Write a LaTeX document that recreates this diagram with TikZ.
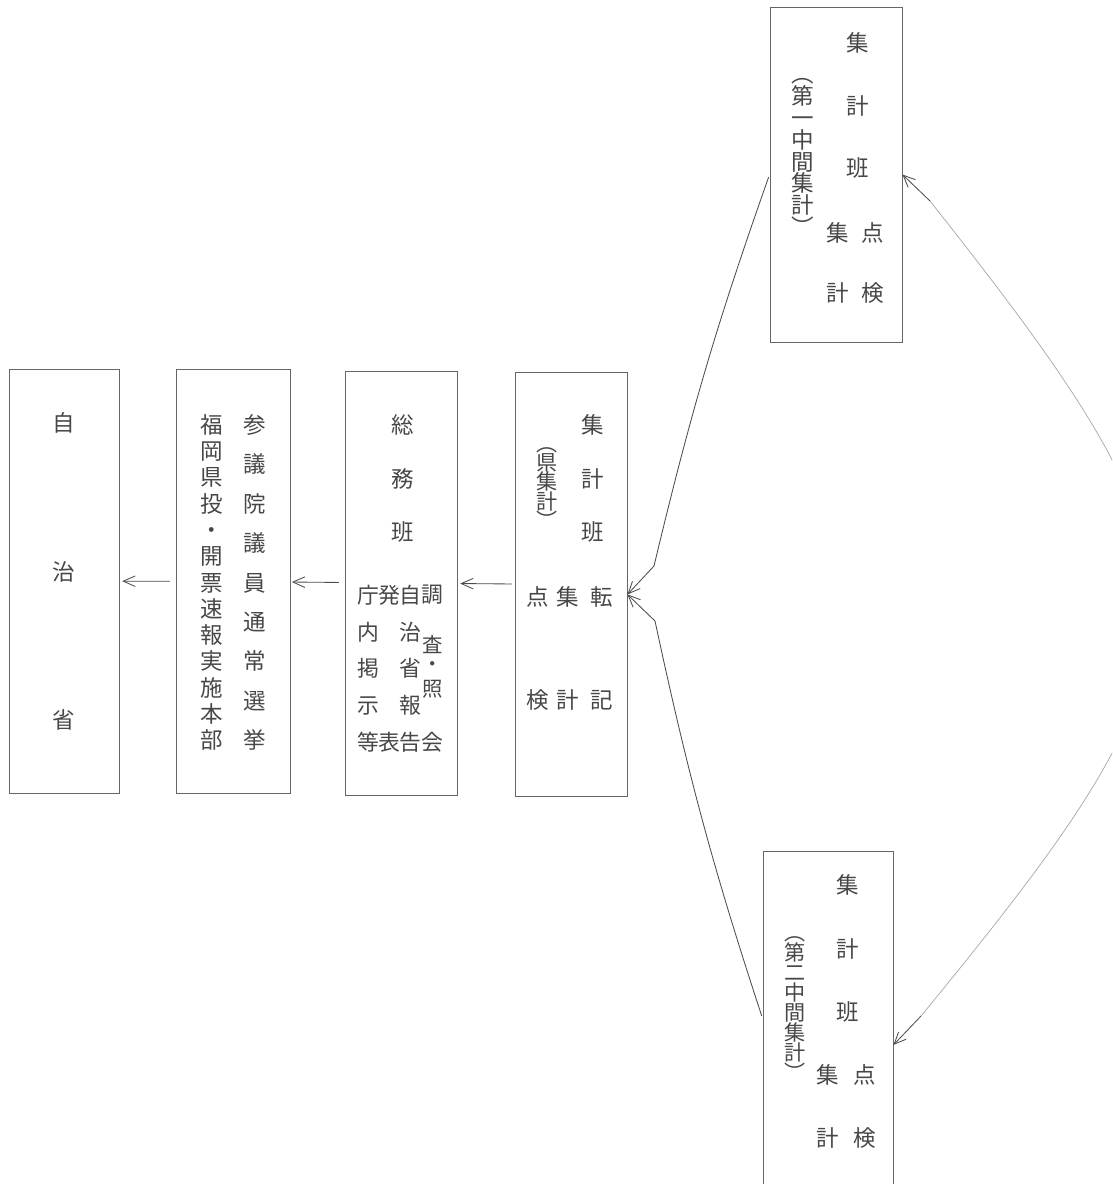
\documentclass[tikz,border=0pt]{standalone}
\usepackage{fontspec}
\newfontfamily\jpfont{Noto Sans CJK JP}
\usetikzlibrary{arrows.meta}

\tikzset{
  box/.style 2 args={draw=black!60, line width=0.6pt, minimum width=#1, minimum height=#2, inner sep=0pt},
  tate/.style 2 args={font={\jpfont\fontsize{#1}{#2}\selectfont\lineskiplimit=-20pt}, text=black!72, align=center, inner sep=0pt},
  arr/.style={draw=black!70, line width=0.6pt, -{Straight Barb[length=8.5pt,width=7.5pt]}},
  faint/.style={draw=black!35, line width=0.5pt},
}

\begin{document}
\begin{tikzpicture}[x=0.025cm, y=-0.025cm]
\useasboundingbox (0,0) rectangle (1112,1184);
\clip (0,0) rectangle (1112,1184);

% boxes, left to right, then the two intermediate ones
\node[box={2.75cm}{10.6cm}] (jichi) at (64,581) {};
\node[box={2.85cm}{10.6cm}] (honbu) at (233,581.5) {};
\node[box={2.8cm}{10.6cm}] (somu) at (401,583) {};
\node[box={2.8cm}{10.6cm}] (ken) at (571,584.5) {};
\node[box={3.3cm}{8.375cm}] (chukan1) at (836,174.5) {};
\node[box={3.25cm}{8.375cm}] (chukan2) at (828,1018.5) {};

% vertical texts
\node[tate={16pt}{105.6pt}] (jichi-t) at (64,571.5) {自\\治\\省};

\node[tate={16pt}{28pt}] (honbu-r) at (255,582.5) {参\\議\\院\\議\\員\\通\\常\\選\\挙};
\node[tate={16pt}{18.7pt}] (honbu-l) at (212,582.5) {福\\岡\\県\\投\\・\\開\\票\\速\\報\\実\\施\\本\\部};

\node[tate={16pt}{38.1pt}] (somu-t) at (403,478.5) {総\\務\\班};
\node[tate={15.5pt}{26.1pt}] (somu-a) at (368,668.5) {庁\\内\\掲\\示\\等};
\node[tate={15.5pt}{104.6pt}] (somu-b) at (389,668.5) {発\\表};
\node[tate={15.5pt}{26.1pt}] (somu-c) at (410,668.5) {自\\治\\省\\報\\告};
\foreach \c/\y [count=\i] in {調/595, 会/742}
  \node[tate={15.5pt}{15pt}] (somu-d\i) at (432,\y) {\c};
\foreach \c/\y [count=\i] in {査/645, ・/667, 照/689}
  \node[tate={14.5pt}{14.5pt}] (somu-e\i) at (433,\y) {\c};

\node[tate={16pt}{38.1pt}] (ken-t) at (593,478.5) {集\\計\\班};
\node[tate={15pt}{13.8pt}] (ken-n) at (547,488) {︵\\県\\集\\計\\︶};
\node[tate={16pt}{73.3pt}] (ken-a) at (602,648.5) {転\\記};
\node[tate={16pt}{73.3pt}] (ken-b) at (568,648.5) {集\\計};
\node[tate={16pt}{73.3pt}] (ken-c) at (538,648.5) {点\\検};

\node[tate={16pt}{44.5pt}] (chukan1-t) at (858,105.5) {集\\計\\班};
\node[tate={16pt}{42.7pt}] (chukan1-a) at (873,263) {点\\検};
\node[tate={16pt}{42.7pt}] (chukan1-b) at (838,263) {集\\計};
\node[tate={16pt}{15.6pt}] (chukan1-n) at (803,157) {︵\\第\\一\\中\\間\\集\\計\\︶};

\node[tate={16pt}{45.2pt}] (chukan2-t) at (848,948.5) {集\\計\\班};
\node[tate={16pt}{44.8pt}] (chukan2-a) at (865,1106.5) {点\\検};
\node[tate={16pt}{44.8pt}] (chukan2-b) at (828,1106.5) {集\\計};
\node[tate={15pt}{14.2pt}] (chukan2-n) at (795,1008.5) {︵\\第\\二\\中\\間\\集\\計\\︶};

% arrows between the boxes
\draw[arr, shorten <=4pt, shorten >=2pt] (honbu) -- (jichi);
\draw[arr, shorten <=4pt, shorten >=1pt] (somu) -- (honbu);
\draw[arr, shorten <=2pt, shorten >=2pt] (ken) -- (somu);

\coordinate (k1) at (654,566);
\coordinate (k2) at (655,621);
\draw[arr, shorten <=2pt] (chukan1.west) to[bend right=3] (k1) -- (ken.-10);
\draw[arr, shorten <=2pt] (chukan2.west) to[bend left=3] (k2) -- (ken.-10);

% the wide arc on the right, leaving the page
\coordinate (k3) at (930,201);
\coordinate (k4) at (921,1016);
\draw[faint] (k3) .. controls (1230,580) and (1230,640) .. (k4);
\draw[arr] (k3) -- (chukan1.east);
\draw[arr] (k4) -- (chukan2.-22);
\end{tikzpicture}
\end{document}
